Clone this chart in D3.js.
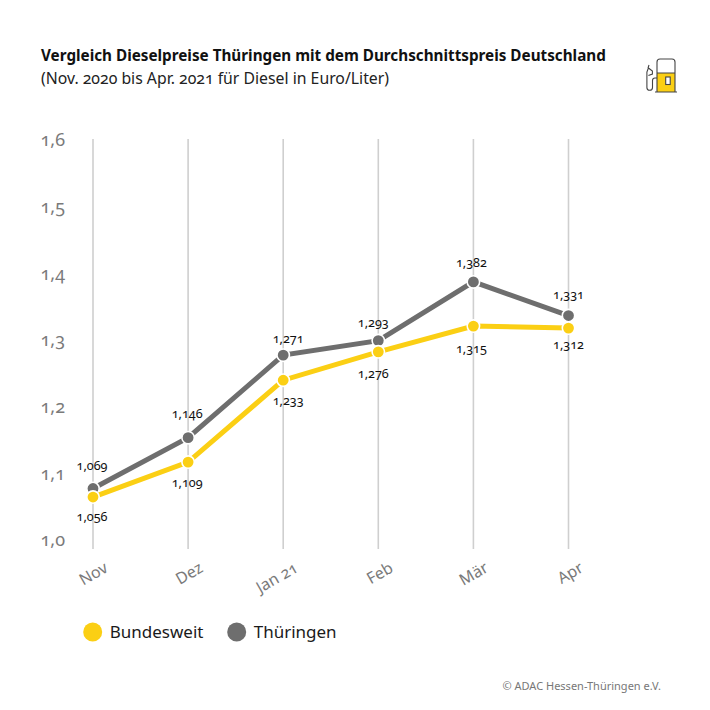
<!DOCTYPE html>
<html><head><meta charset="utf-8">
<script src="https://cdn.jsdelivr.net/npm/d3@7"></script>
<style>
html,body{margin:0;padding:0;background:#fff}
svg{display:block}
text{font-family:"Noto Sans","Open Sans",sans-serif;font-feature-settings:"onum" 1;font-variant-numeric:oldstyle-nums}
</style></head><body><div id="c"></div>
<script>
const months=["Nov","Dez","Jan 21","Feb","Mär","Apr"];
const bundesweit=[1.056,1.109,1.233,1.276,1.315,1.312];
const thueringen=[1.069,1.146,1.271,1.293,1.382,1.331];
const yTicks=[1.0,1.1,1.2,1.3,1.4,1.5,1.6];
const seriesNames=["Bundesweit","Thüringen"];
const colors=["#fbcf14","#6e6e6e"];
const fmt=(v,d)=>v.toFixed(d).replace(".",",");

const svg=d3.select("#c").append("svg").attr("width",710).attr("height",710);
const x=d3.scalePoint().domain(months).range([93,568.5]);
const y=d3.scaleLinear().domain([1.0,1.6]).range([534,138]);
const yLab=d3.scaleLinear().domain([1.0,1.6]).range([540,140]);

svg.append("text").attr("x",41).attr("y",61).attr("font-size",15.25).attr("font-weight",700).attr("fill","#111")
 .text("Vergleich Dieselpreise Thüringen mit dem Durchschnittspreis Deutschland");
svg.append("text").attr("x",41).attr("y",84).attr("font-size",15.8).attr("fill","#222")
 .text("(Nov. 2020 bis Apr. 2021 für Diesel in Euro/Liter)");

svg.append("g").selectAll("line").data(months).join("line")
 .attr("x1",d=>x(d)).attr("x2",d=>x(d)).attr("y1",139).attr("y2",549)
 .attr("stroke","#cfcfcf").attr("stroke-width",1.6);

svg.append("g").selectAll("text").data(yTicks).join("text")
 .attr("x",65).attr("y",d=>yLab(d)).attr("dy","0.36em").attr("text-anchor","end")
 .attr("font-size",18).attr("fill","#7a7a7a").text(d=>fmt(d,1));

svg.append("g").selectAll("text").data(months).join("text")
 .attr("transform",d=>`translate(${x(d)+16},571) rotate(-30)`)
 .attr("text-anchor","end").attr("font-size",16).attr("fill","#7a7a7a").text(d=>d);

const line=d3.line().x((d,i)=>x(months[i])).y(d=>y(d));
[thueringen,bundesweit].forEach((s,k)=>{
  const c=k===0?colors[1]:colors[0];
  svg.append("path").attr("d",line(s)).attr("fill","none").attr("stroke",c).attr("stroke-width",5);
  svg.append("g").selectAll("circle").data(s).join("circle")
   .attr("cx",(d,i)=>x(months[i])).attr("cy",d=>y(d)).attr("r",6.2).attr("fill",c)
   .attr("stroke","#fff").attr("stroke-width",1.6);
});

// label nudges relative to each point: below for Bundesweit, above for Thüringen
const dxLab=[-1,-1,5,-5,-2,0];
const dyB=[24,25,25,26,27,21], dyT=[-18,-20,-12,-14,-15,-17];
[bundesweit,thueringen].forEach((s,k)=>{
  const dy=k===0?dyB:dyT;
  svg.append("g").selectAll("text").data(s).join("text")
   .attr("x",(d,i)=>x(months[i])+dxLab[i]).attr("y",(d,i)=>y(d)+dy[i]).attr("text-anchor","middle")
   .attr("font-size",12.6).attr("fill","#111").text(d=>fmt(d,3));
});

const lx=[92.7,236.7];
seriesNames.forEach((n,i)=>{
  svg.append("circle").attr("cx",lx[i]).attr("cy",632).attr("r",9.5).attr("fill",colors[i]);
  svg.append("text").attr("x",lx[i]+17).attr("y",638).attr("font-size",17).attr("fill","#1a1a1a").text(n);
});
svg.append("text").attr("x",661).attr("y",690).attr("text-anchor","end").attr("font-size",11).attr("fill","#777").text("© ADAC Hessen-Thüringen e.V.");

// fuel pump icon
const g=svg.append("g").attr("fill","none").attr("stroke","#444").attr("stroke-width",1.1);
g.append("rect").attr("x",657).attr("y",73).attr("width",18).attr("height",19).attr("fill","#fbcf14").attr("stroke","none");
g.append("path").attr("d","M657 92V62a3 3 0 0 1 3-3h12a3 3 0 0 1 3 3V92M657 73H675M655 92H677");
g.append("rect").attr("x",665.7).attr("y",77).attr("width",4.5).attr("height",7.5).attr("fill","#fff");
g.append("path").attr("d","M657 78h-2a2.5 2.5 0 0 0-2.5 2.5v7a2.8 2.8 0 0 1-5.6 0V72l1.5-4 4 3v3l-4 1.5M648 68l1-3");
</script></body></html>
